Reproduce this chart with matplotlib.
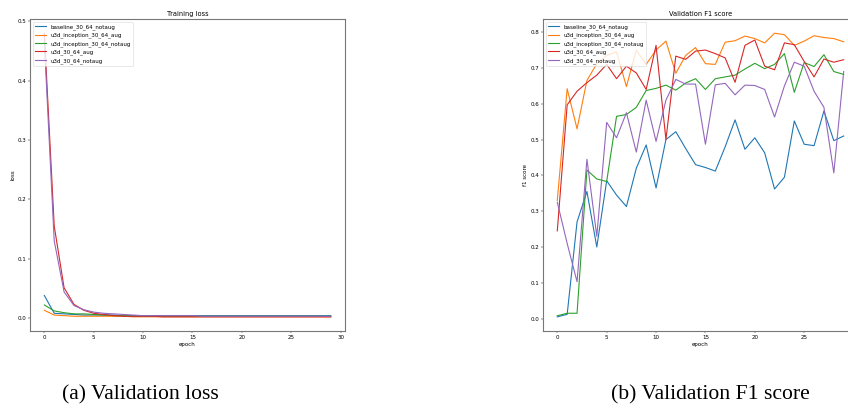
import matplotlib
matplotlib.use("Agg")
import matplotlib.pyplot as plt

epochs = list(range(30))
imena = ["baseline_30_64_notaug", "u3d_inception_30_64_aug", "u3d_inception_30_64_notaug",
         "u3d_30_64_aug", "u3d_30_64_notaug"]

# loss po epohah
loss_baseline = [0.038, 0.008, 0.007, 0.006, 0.005, 0.005, 0.005, 0.005, 0.004, 0.004,
                 0.004, 0.004, 0.004, 0.004, 0.004, 0.004, 0.004, 0.004, 0.004, 0.004,
                 0.004, 0.004, 0.004, 0.004, 0.004, 0.004, 0.004, 0.004, 0.004, 0.004]
loss_inc_aug = [0.013, 0.005, 0.004, 0.003, 0.003, 0.003, 0.003, 0.003, 0.003, 0.002,
                0.002, 0.002, 0.002, 0.002, 0.002, 0.002, 0.002, 0.002, 0.002, 0.002,
                0.002, 0.002, 0.002, 0.002, 0.002, 0.002, 0.002, 0.002, 0.002, 0.002]
loss_inc_notaug = [0.022, 0.012, 0.009, 0.007, 0.007, 0.006, 0.005, 0.004, 0.004, 0.003,
                   0.003, 0.003, 0.003, 0.003, 0.003, 0.003, 0.003, 0.003, 0.003, 0.003,
                   0.003, 0.003, 0.003, 0.003, 0.003, 0.003, 0.003, 0.003, 0.003, 0.003]
loss_u3d_aug = [0.48, 0.155, 0.051, 0.023, 0.013, 0.008, 0.006, 0.004, 0.003, 0.003,
                0.003, 0.003, 0.002, 0.002, 0.002, 0.002, 0.002, 0.002, 0.002, 0.002,
                0.002, 0.002, 0.002, 0.002, 0.002, 0.002, 0.002, 0.002, 0.002, 0.002]
loss_u3d_notaug = [0.465, 0.13, 0.044, 0.021, 0.014, 0.010, 0.008, 0.007, 0.006, 0.005,
                   0.004, 0.004, 0.004, 0.004, 0.004, 0.004, 0.003, 0.003, 0.003, 0.003,
                   0.003, 0.003, 0.003, 0.003, 0.003, 0.003, 0.003, 0.003, 0.003, 0.003]

# f1 po epohah
f1_baseline = [0.005, 0.012, 0.27, 0.355, 0.2, 0.385, 0.345, 0.313, 0.42, 0.485,
               0.365, 0.5, 0.522, 0.475, 0.43, 0.422, 0.412, 0.48, 0.555, 0.473,
               0.505, 0.463, 0.362, 0.395, 0.552, 0.487, 0.483, 0.58, 0.497, 0.51]
f1_inc_aug = [0.33, 0.642, 0.53, 0.665, 0.712, 0.735, 0.745, 0.648, 0.75, 0.71,
              0.75, 0.775, 0.685, 0.735, 0.757, 0.712, 0.71, 0.772, 0.776, 0.789,
              0.782, 0.77, 0.797, 0.793, 0.763, 0.775, 0.79, 0.785, 0.782, 0.773]
f1_inc_notaug = [0.008, 0.015, 0.015, 0.415, 0.39, 0.383, 0.565, 0.57, 0.59, 0.637,
                 0.643, 0.652, 0.638, 0.658, 0.67, 0.64, 0.67, 0.675, 0.68, 0.697,
                 0.713, 0.698, 0.71, 0.74, 0.632, 0.715, 0.704, 0.737, 0.69, 0.682]
f1_u3d_aug = [0.245, 0.597, 0.635, 0.659, 0.68, 0.71, 0.67, 0.705, 0.686, 0.64,
              0.763, 0.5, 0.733, 0.724, 0.747, 0.75, 0.74, 0.728, 0.66, 0.763,
              0.778, 0.705, 0.695, 0.77, 0.765, 0.718, 0.675, 0.725, 0.716, 0.723]
f1_u3d_notaug = [0.325, 0.21, 0.103, 0.445, 0.23, 0.548, 0.505, 0.575, 0.465, 0.61,
                 0.495, 0.61, 0.668, 0.655, 0.655, 0.487, 0.653, 0.657, 0.625, 0.652,
                 0.651, 0.64, 0.563, 0.65, 0.716, 0.705, 0.635, 0.59, 0.407, 0.69]

loss = [loss_baseline, loss_inc_aug, loss_inc_notaug, loss_u3d_aug, loss_u3d_notaug]
f1 = [f1_baseline, f1_inc_aug, f1_inc_notaug, f1_u3d_aug, f1_u3d_notaug]

# slika je bila narisana vecja in pomanjsana, zato dpi 40
fig = plt.figure(figsize=(848 / 40, 413 / 40), dpi=40)
ax1 = fig.add_axes([0.0354, 0.1985, 0.3715, 0.7554])
ax2 = fig.add_axes([0.6403, 0.1985, 0.3715, 0.7554])

for y, ime in zip(loss, imena):
    ax1.plot(epochs, y, label=ime, lw=2)
ax1.set_title("Training loss")
ax1.set_xlabel("epoch")
ax1.set_ylabel("loss")
ax1.legend(loc="upper left")

for y, ime in zip(f1, imena):
    ax2.plot(epochs, y, label=ime, lw=2)
ax2.set_title("Validation F1 score")
ax2.set_xlabel("epoch")
ax2.set_ylabel("f1 score")
ax2.legend(loc="upper left")
# desni rob je odrezan, oznaka 30 ni vidna
ax2.set_xticks([0, 5, 10, 15, 20, 25])

for ax in (ax1, ax2):
    for s in ax.spines.values():
        s.set_color("#777777")
        s.set_linewidth(2)

fig.text(0.166, 0.044, "(a) Validation loss", family="Liberation Serif", fontsize=39,
         ha="center", va="center")
fig.text(0.838, 0.044, "(b) Validation F1 score", family="Liberation Serif", fontsize=39,
         ha="center", va="center")

fig.savefig("out.png", dpi=40)
